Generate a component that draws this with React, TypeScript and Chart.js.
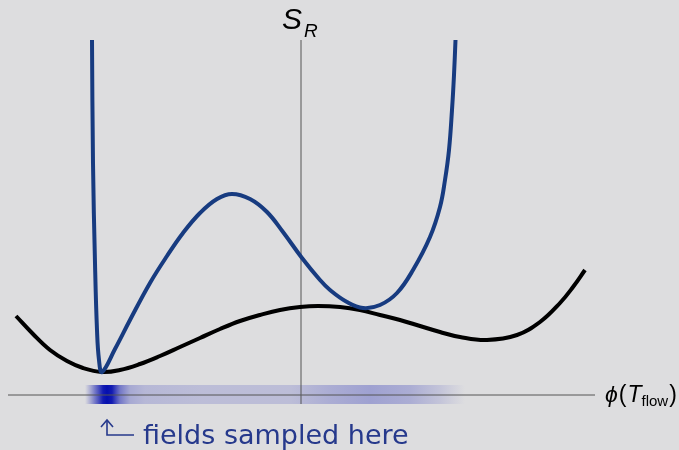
import React, { useEffect, useRef } from "react";
import { Chart, registerables } from "chart.js";

Chart.register(...registerables);

// phi axis (x) and S_R axis (y) values
const blackX = [-2.85, -2.68, -2.51, -2.34, -2.18, -1.99, -1.81, -1.61, -1.41, -1.21, -1.01, -0.81, -0.61, -0.41, -0.21, -0.01, 0.17, 0.39, 0.59, 0.79, 0.99, 1.19, 1.39, 1.59, 1.86, 2.16, 2.39, 2.59, 2.72, 2.84];
const blackY = [0.79, 0.61, 0.45, 0.34, 0.27, 0.23, 0.25, 0.31, 0.39, 0.48, 0.57, 0.66, 0.74, 0.8, 0.85, 0.88, 0.89, 0.88, 0.85, 0.8, 0.75, 0.69, 0.63, 0.58, 0.55, 0.6, 0.73, 0.92, 1.08, 1.25];

const blueX = [-2.09, -2.08, -2.06, -2.04, -2.02, -1.99, -1.86, -1.71, -1.51, -1.34, -1.18, -1.01, -0.84, -0.69, -0.51, -0.34, -0.18, 0.01, 0.19, 0.29, 0.46, 0.62, 0.79, 0.96, 1.12, 1.29, 1.39, 1.44, 1.48, 1.51, 1.53, 1.545];
const blueY = [3.55, 2.32, 1.32, 0.65, 0.35, 0.23, 0.46, 0.75, 1.12, 1.39, 1.62, 1.82, 1.96, 2.01, 1.96, 1.83, 1.63, 1.37, 1.15, 1.05, 0.93, 0.87, 0.9, 1.02, 1.25, 1.58, 1.88, 2.15, 2.45, 2.85, 3.2, 3.55];

const hAxisX = [-2.93, 2.94];
const hAxisY = [0, 0];
const vAxisX = [0, 0];
const vAxisY = [-0.09, 3.55];

// sampling density along the phi axis
const bandX = [-2.16, -2.06, -1.98, -1.94, -1.89, -1.81, -1.71, -1.56, -1.0, -0.1, 0.29, 0.69, 1.09, 1.39, 1.64];
const bandAlpha = [0, 0.55, 0.95, 1, 0.95, 0.55, 0.3, 0.22, 0.19, 0.19, 0.28, 0.34, 0.28, 0.15, 0];
const bandTop = 0.1;
const bandBottom = -0.09;

const xMin = -3.01;
const xMax = 3.78;
const yMin = -0.55;
const yMax = 3.95;

const BG = "#dddddf";
const BLUE = "#173b80";
const TEXT_BLUE = "#26398c";

const toPts = (xs: number[], ys: number[]) => xs.map((x, i) => ({ x, y: ys[i] }));

const bgPlugin = {
  id: "bg",
  beforeDraw(chart: any) {
    const { ctx, width, height } = chart;
    ctx.save();
    ctx.fillStyle = BG;
    ctx.fillRect(0, 0, width, height);
    ctx.restore();
  },
};

const bandPlugin = {
  id: "band",
  beforeDatasetsDraw(chart: any) {
    const { ctx } = chart;
    const xs = chart.scales.x;
    const ys = chart.scales.y;
    const x0 = xs.getPixelForValue(bandX[0]);
    const x1 = xs.getPixelForValue(bandX[bandX.length - 1]);
    const y0 = ys.getPixelForValue(bandTop);
    const y1 = ys.getPixelForValue(bandBottom);
    const g = ctx.createLinearGradient(x0, 0, x1, 0);
    bandX.forEach((v, i) => {
      const p = (xs.getPixelForValue(v) - x0) / (x1 - x0);
      const a = bandAlpha[i];
      const r = Math.round(55 - 50 * a);
      const gg = Math.round(60 - 45 * a);
      const b = Math.round(185 - 10 * a);
      g.addColorStop(Math.min(1, Math.max(0, p)), `rgba(${r},${gg},${b},${a})`);
    });
    ctx.save();
    ctx.fillStyle = g;
    ctx.fillRect(x0, y0, x1 - x0, y1 - y0);
    ctx.restore();
  },
};

const labelPlugin = {
  id: "labels",
  afterDraw(chart: any) {
    const { ctx } = chart;
    const xs = chart.scales.x;
    const ys = chart.scales.y;
    const ax = xs.getPixelForValue(0);
    const topY = ys.getPixelForValue(vAxisY[1]);
    const axY = ys.getPixelForValue(0);
    const rightX = xs.getPixelForValue(hAxisX[1]);
    ctx.save();
    ctx.fillStyle = "#000";
    ctx.textBaseline = "alphabetic";
    ctx.textAlign = "left";
    // S_R
    ctx.font = "italic 30px 'Liberation Sans', Arial, sans-serif";
    ctx.fillText("S", ax - 19, topY - 11);
    ctx.font = "italic 19px 'Liberation Sans', Arial, sans-serif";
    ctx.fillText("R", ax + 3, topY - 3);

    // phi(T_flow)
    let x = rightX + 10;
    const base = axY + 7;
    const put = (t: string, font: string, dy = 0) => {
      ctx.font = font;
      ctx.fillText(t, x, base + dy);
      x += ctx.measureText(t).width;
    };
    put("\u03d5", "italic 23px 'Liberation Sans', Arial, sans-serif");
    x += 1;
    put("(", "23px 'Liberation Sans', Arial, sans-serif");
    x += 1;
    put("T", "italic 23px 'Liberation Sans', Arial, sans-serif");
    put("flow", "15px 'Liberation Sans', Arial, sans-serif", 4);
    x += 1;
    put(")", "23px 'Liberation Sans', Arial, sans-serif");

    // fields sampled here
    const cx = xs.getPixelForValue(-1.94);
    ctx.fillStyle = TEXT_BLUE;
    ctx.strokeStyle = TEXT_BLUE;
    ctx.font = "27px 'DejaVu Sans', sans-serif";
    ctx.fillText("fields sampled here", cx + 36, axY + 49);
    ctx.lineWidth = 1.6;
    ctx.beginPath();
    ctx.moveTo(cx, axY + 26);
    ctx.lineTo(cx, axY + 40);
    ctx.lineTo(cx + 27, axY + 40);
    ctx.stroke();
    ctx.beginPath();
    ctx.moveTo(cx - 6, axY + 32);
    ctx.lineTo(cx, axY + 25);
    ctx.lineTo(cx + 6, axY + 32);
    ctx.stroke();
    ctx.restore();
  },
};

export default function App() {
  const ref = useRef<HTMLCanvasElement>(null);
  useEffect(() => {
    document.body.style.margin = "0";
    const chart = new Chart(ref.current as HTMLCanvasElement, {
      type: "line",
      data: {
        datasets: [
          {
            data: toPts(blueX, blueY),
            borderColor: BLUE,
            borderWidth: 4,
            tension: 0.4,
            pointRadius: 0,
            fill: false,
          },
          {
            data: toPts(blackX, blackY),
            borderColor: "#000000",
            borderWidth: 4,
            tension: 0.4,
            pointRadius: 0,
            fill: false,
          },
          {
            data: toPts(hAxisX, hAxisY),
            borderColor: "#555555",
            borderWidth: 1,
            pointRadius: 0,
            fill: false,
          },
          {
            data: toPts(vAxisX, vAxisY),
            borderColor: "#555555",
            borderWidth: 1,
            pointRadius: 0,
            fill: false,
          },
        ],
      },
      options: {
        animation: false,
        responsive: false,
        maintainAspectRatio: false,
        layout: { padding: 0 },
        plugins: { legend: { display: false }, tooltip: { enabled: false } },
        scales: {
          x: { type: "linear", min: xMin, max: xMax, display: false },
          y: { type: "linear", min: yMin, max: yMax, display: false },
        },
        elements: { point: { radius: 0 } },
      },
      plugins: [bgPlugin, bandPlugin, labelPlugin],
    } as any);
    return () => chart.destroy();
  }, []);
  return (
    <div style={{ position: "fixed", left: 0, top: 0, width: 679, height: 450 }}>
      <canvas ref={ref} width={679} height={450} style={{ display: "block" }} />
    </div>
  );
}
